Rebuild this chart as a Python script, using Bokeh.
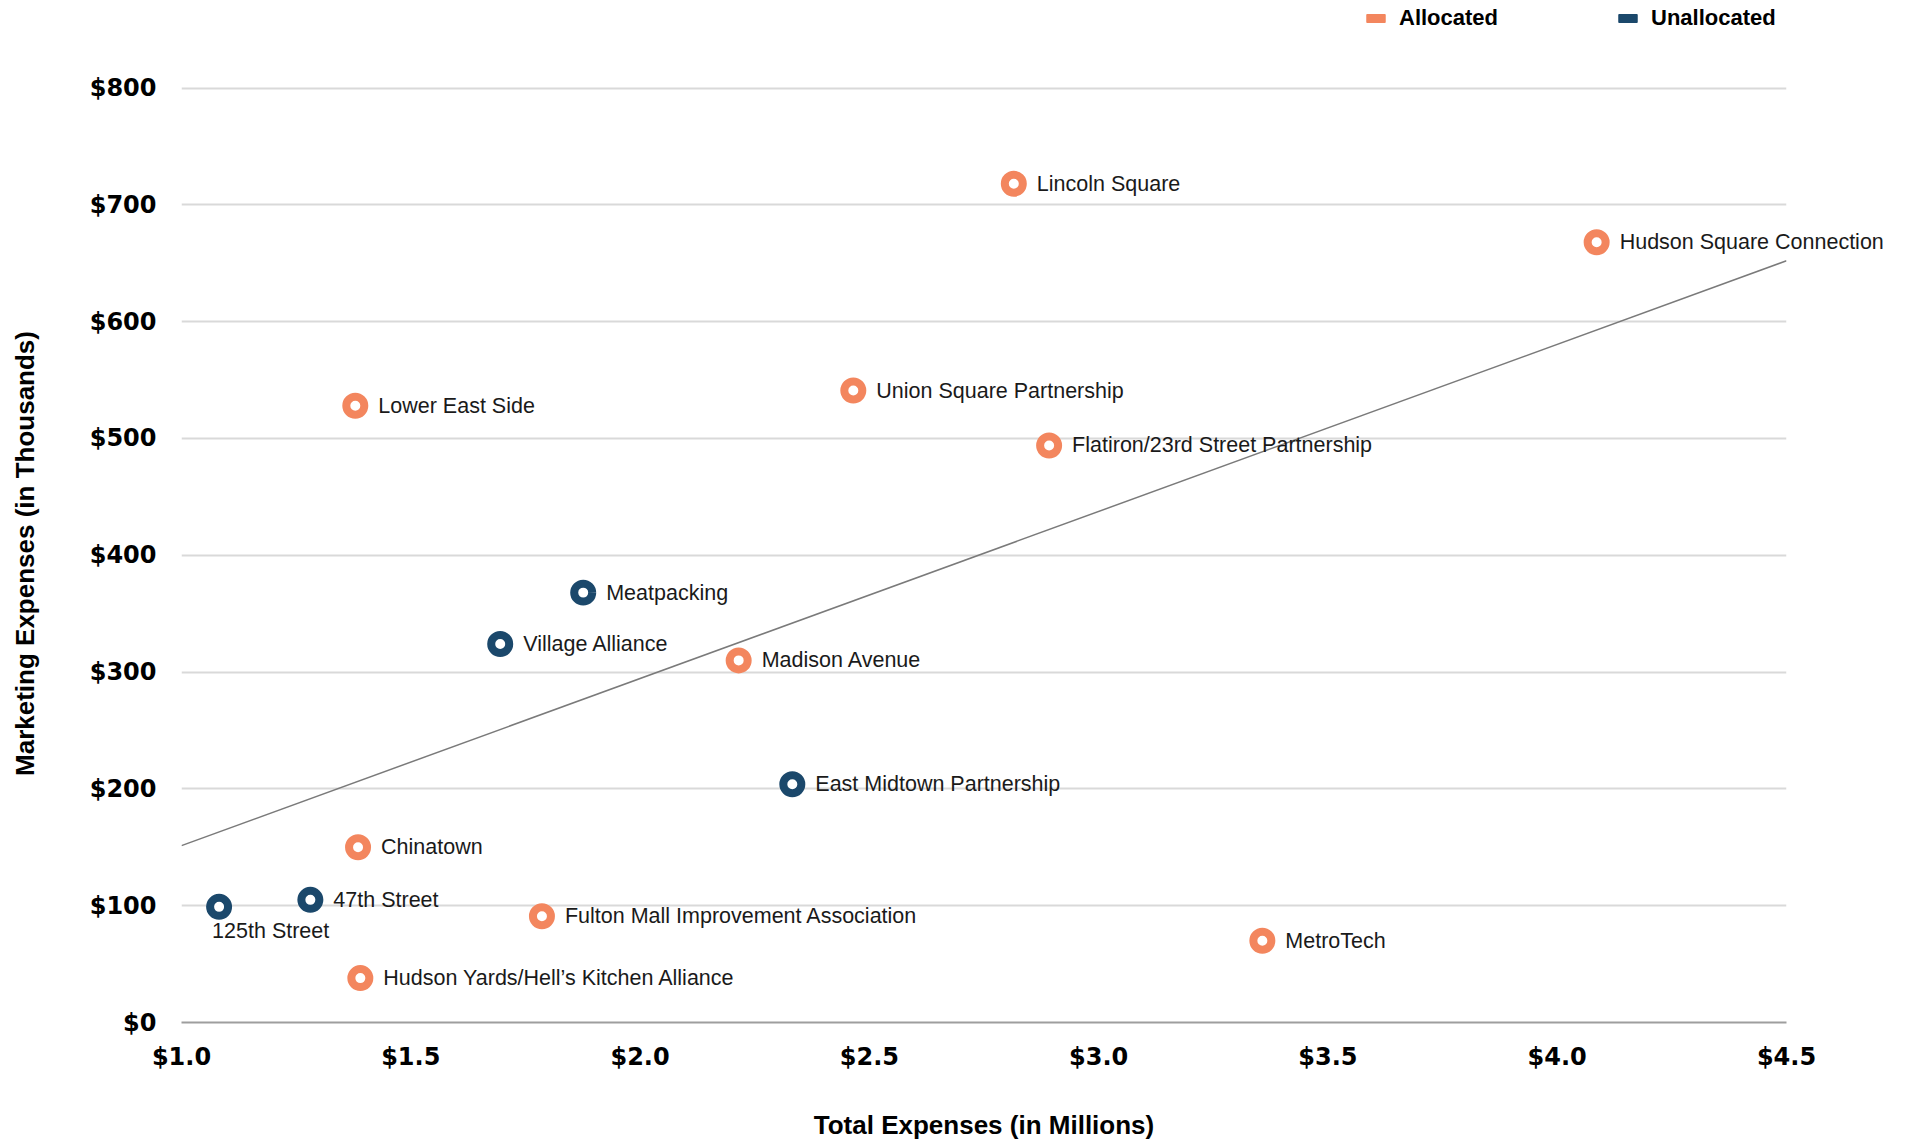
import numpy as np
from bokeh.plotting import figure
from bokeh.layouts import column
from bokeh.models import (ColumnDataSource, Label, Legend, LegendItem,
                          FixedTicker, CustomJSTickFormatter, Range1d)
from bokeh.embed import file_html
from bokeh.resources import INLINE

# ---- data ----
names = ["Lincoln Square", "Hudson Square Connection", "Union Square Partnership",
         "Lower East Side", "Flatiron/23rd Street Partnership", "Meatpacking",
         "Village Alliance", "Madison Avenue", "East Midtown Partnership",
         "Chinatown", "47th Street", "125th Street",
         "Fulton Mall Improvement Association", "MetroTech",
         "Hudson Yards/Hell\u2019s Kitchen Alliance"]
total_expenses = [2.815, 4.086, 2.465, 1.379, 2.892, 1.876, 1.695, 2.215, 2.332,
                  1.385, 1.281, 1.082, 1.786, 3.357, 1.390]   # $ millions
marketing_expenses = [718, 668, 541, 528, 494, 368, 324, 310, 204,
                      150, 105, 99, 91, 70, 38]                # $ thousands
status = ["Allocated", "Allocated", "Allocated", "Allocated", "Allocated",
          "Unallocated", "Unallocated", "Allocated", "Unallocated",
          "Allocated", "Unallocated", "Unallocated", "Allocated", "Allocated",
          "Allocated"]
categories = ["Allocated", "Unallocated"]
x_ticks = [1.0, 1.5, 2.0, 2.5, 3.0, 3.5, 4.0, 4.5]
y_ticks = [0, 100, 200, 300, 400, 500, 600, 700, 800]
x_title = "Total Expenses (in Millions)"
y_title = "Marketing Expenses (in Thousands)"

COLORS = {"Allocated": "#F3865E", "Unallocated": "#1B486B"}
LABEL_FONT = "Liberation Sans"

# ---- layout constants ----
FIG_W = 1900
LEFT = 181
AXIS_W = 1605                      # px for the $1.0 .. $4.5 span
TOP_H = 52                         # legend strip
MAIN_TOP = 32
Y_TOP = 803
PX_PER_Y = 940 / 805
BOTTOM = 118
frame_h = int(round(Y_TOP * PX_PER_Y))


def blank_fig(h):
    f = figure(width=FIG_W, height=h, frame_width=FIG_W, frame_height=h,
               output_backend="svg", toolbar_location=None,
               x_axis_type=None, y_axis_type=None,
               min_border_left=0, min_border_right=0, min_border_top=0,
               min_border_bottom=0, x_range=Range1d(0, 1), y_range=Range1d(0, 1))
    f.outline_line_color = None
    f.xgrid.visible = False
    f.ygrid.visible = False
    f.background_fill_color = "white"
    f.border_fill_color = "white"
    return f


# ---- legend strip ----
top = blank_fig(TOP_H)
items = []
for c in categories:
    # swatch source: a unit square kept outside the strip's visible range
    r = top.quad(left=[2], right=[3], top=[3], bottom=[2], fill_color=COLORS[c],
                 line_color=COLORS[c])
    items.append(LegendItem(label=c, renderers=[r]))
legend = Legend(items=items, orientation="horizontal", location=(1364, 21),
                glyph_width=23, glyph_height=10, label_standoff=12, spacing=118,
                padding=0, margin=0, border_line_alpha=0,
                background_fill_alpha=0, label_text_font=LABEL_FONT,
                label_text_font_style="bold", label_text_font_size="22px",
                label_text_color="#000000")
top.add_layout(legend, "center")

# ---- main chart ----
p = figure(frame_width=AXIS_W, frame_height=frame_h, output_backend="svg",
           toolbar_location=None,
           x_range=Range1d(x_ticks[0], x_ticks[-1]), y_range=Range1d(0, Y_TOP),
           min_border_left=LEFT, min_border_right=FIG_W - LEFT - AXIS_W,
           min_border_top=MAIN_TOP, min_border_bottom=BOTTOM)
p.outline_line_color = None
p.background_fill_color = "white"
p.border_fill_color = "white"
p.xgrid.visible = False
p.ygrid.ticker = FixedTicker(ticks=y_ticks)
p.ygrid.grid_line_color = "#d9d9d9"
p.ygrid.grid_line_width = 2

p.xaxis.ticker = FixedTicker(ticks=x_ticks)
p.yaxis.ticker = FixedTicker(ticks=y_ticks)
p.xaxis.formatter = CustomJSTickFormatter(code="return '$' + tick.toFixed(1);")
p.yaxis.formatter = CustomJSTickFormatter(code="return '$' + tick.toFixed(0);")
for ax in (p.xaxis, p.yaxis):
    ax.major_tick_line_color = None
    ax.minor_tick_line_color = None
    ax.major_tick_out = 0
    ax.major_tick_in = 0
    ax.major_label_text_font = "DejaVu Sans"
    ax.major_label_text_font_style = "bold"
    ax.major_label_text_font_size = "24px"
    ax.major_label_text_color = "#000000"
    ax.axis_label_text_font = LABEL_FONT
    ax.axis_label_text_font_style = "bold"
    ax.axis_label_text_font_size = "26px"
    ax.axis_label_text_color = "#000000"
p.yaxis.axis_line_color = None
p.xaxis.axis_line_color = "#9e9e9e"
p.xaxis.axis_line_width = 2
p.xaxis.major_label_standoff = 20
p.yaxis.major_label_standoff = 25
p.xaxis.axis_label = x_title
p.yaxis.axis_label = y_title
p.xaxis.axis_label_standoff = 36
p.yaxis.axis_label_standoff = 47

# trend line (least squares through the data)
slope, intercept = np.polyfit(total_expenses, marketing_expenses, 1)
xs_tr = [x_ticks[0], x_ticks[-1]]
p.line(xs_tr, [intercept + slope * x for x in xs_tr], line_color="#7a7a7a",
       line_width=1.5)

# points
src = ColumnDataSource(dict(x=total_expenses, y=marketing_expenses, name=names,
                            status=status,
                            color=[COLORS[s] for s in status]))
p.scatter("x", "y", source=src, size=18, fill_color="white",
          line_color="color", line_width=8)

# point labels; the right-most label runs past the plot frame, so it is
# attached to a side panel (side-panel annotations are not clipped)
rightmost = int(np.argmax(total_expenses))
for i, (xv, yv, nm) in enumerate(zip(total_expenses, marketing_expenses, names)):
    if nm == "125th Street":
        lab = Label(x=xv, y=yv, text=nm, x_offset=-7, y_offset=-12,
                    text_baseline="top", text_align="left")
    else:
        lab = Label(x=xv, y=yv, text=nm, x_offset=23, y_offset=0,
                    text_baseline="middle", text_align="left")
    lab.text_font = LABEL_FONT
    lab.text_font_size = "21.5px"
    lab.text_color = "#1a1a1a"
    p.add_layout(lab, "above" if i == rightmost else "center")

layout = column(top, p, spacing=0)
open("out.html", "w").write(file_html(layout, INLINE))
